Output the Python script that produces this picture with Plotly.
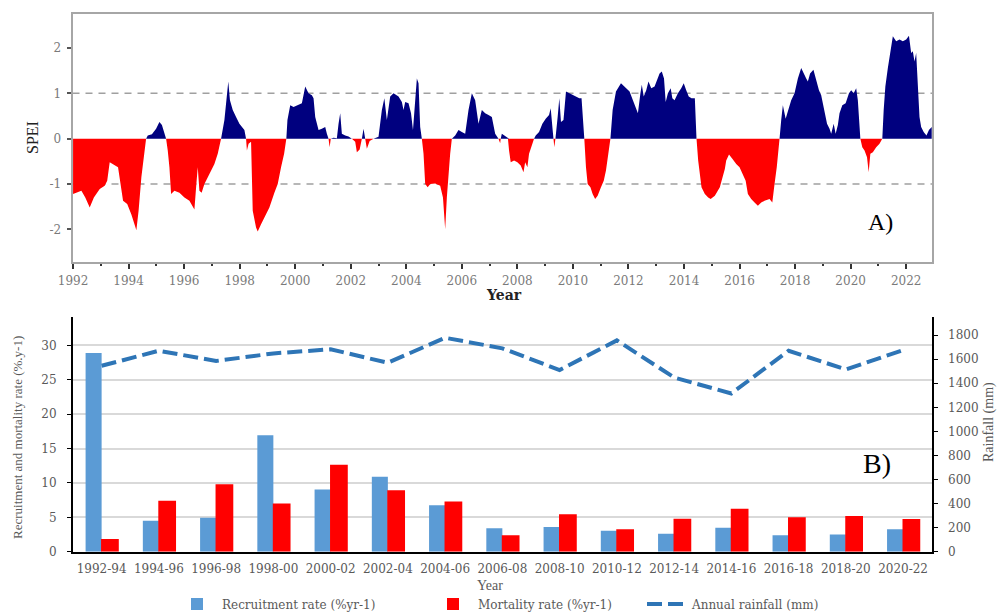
import plotly.graph_objects as go

# ---------------- Panel A: SPEI (decimal year, value) ----------------
spei_year = [
    1992.00, 1992.12, 1992.30, 1992.44, 1992.60, 1992.75, 1992.96, 1993.14, 1993.23, 1993.32,
    1993.44, 1993.62, 1993.71, 1993.80, 1993.95, 1994.10, 1994.28, 1994.36, 1994.46, 1994.55,
    1994.63, 1994.69, 1994.84, 1994.99, 1995.11, 1995.20, 1995.29, 1995.35, 1995.41, 1995.47,
    1995.53, 1995.65, 1995.83, 1996.01, 1996.19, 1996.37, 1996.44, 1996.49, 1996.55, 1996.63,
    1996.73, 1996.91, 1997.09, 1997.21, 1997.33, 1997.45, 1997.54, 1997.59, 1997.65, 1997.75,
    1997.87, 1997.99, 1998.17, 1998.23, 1998.26, 1998.32, 1998.41, 1998.47, 1998.59, 1998.65,
    1998.77, 1998.89, 1999.07, 1999.25, 1999.37, 1999.49, 1999.60, 1999.68,
    1999.72, 1999.82, 1999.94, 2000.12, 2000.24, 2000.36, 2000.48, 2000.60, 2000.66, 2000.72,
    2000.84, 2000.96, 2001.08, 2001.14, 2001.20, 2001.24, 2001.28, 2001.38, 2001.50, 2001.56,
    2001.62, 2001.68, 2001.80, 2001.92, 2002.04, 2002.16, 2002.22, 2002.32, 2002.40, 2002.46,
    2002.52, 2002.58, 2002.68, 2002.82, 2003.00, 2003.12, 2003.21, 2003.30, 2003.42, 2003.54,
    2003.72, 2003.84, 2003.90, 2003.96, 2004.08, 2004.17, 2004.24, 2004.32, 2004.38, 2004.44,
    2004.50, 2004.56, 2004.62, 2004.68, 2004.77, 2004.86, 2005.04, 2005.22, 2005.32, 2005.40,
    2005.46, 2005.52, 2005.58, 2005.64, 2005.76, 2005.88, 2006.00, 2006.12, 2006.24, 2006.36,
    2006.48, 2006.60, 2006.72, 2006.84, 2006.96, 2007.08, 2007.20, 2007.32, 2007.38, 2007.40,
    2007.44, 2007.53, 2007.62, 2007.66, 2007.70, 2007.76, 2007.88, 2008.00, 2008.12, 2008.22,
    2008.28, 2008.36, 2008.42, 2008.48, 2008.60, 2008.66, 2008.78, 2008.90, 2009.02, 2009.14,
    2009.20, 2009.27, 2009.30, 2009.33, 2009.37, 2009.45, 2009.51, 2009.57, 2009.66, 2009.75,
    2009.87, 2009.99, 2010.11, 2010.23, 2010.31, 2010.37, 2010.41, 2010.47, 2010.53, 2010.63,
    2010.71, 2010.80, 2010.89, 2011.01, 2011.11, 2011.19, 2011.28, 2011.35, 2011.43, 2011.55,
    2011.73, 2011.92, 2012.04, 2012.16, 2012.28, 2012.34, 2012.43, 2012.48, 2012.55, 2012.64,
    2012.72, 2012.82, 2012.94, 2013.04, 2013.12, 2013.20, 2013.28, 2013.34, 2013.42, 2013.52,
    2013.58, 2013.66, 2013.78, 2013.90, 2013.99, 2014.08, 2014.17, 2014.27, 2014.39, 2014.45,
    2014.51, 2014.63, 2014.75, 2014.87, 2014.96, 2015.11, 2015.29, 2015.47, 2015.52, 2015.62,
    2015.74, 2015.88, 2016.00, 2016.12, 2016.22, 2016.30, 2016.42, 2016.54, 2016.66, 2016.78,
    2016.90, 2017.08, 2017.18, 2017.26, 2017.34, 2017.44, 2017.50, 2017.56, 2017.66, 2017.74,
    2017.86, 2017.98, 2018.10, 2018.22, 2018.30, 2018.40, 2018.46, 2018.54, 2018.66, 2018.76,
    2018.86, 2018.94, 2019.06, 2019.15, 2019.24, 2019.30, 2019.39, 2019.46, 2019.54, 2019.60,
    2019.70, 2019.82, 2019.94, 2020.02, 2020.11, 2020.20, 2020.26, 2020.35, 2020.42, 2020.50,
    2020.59, 2020.65, 2020.71, 2020.80, 2020.92, 2021.04, 2021.14, 2021.19, 2021.25, 2021.34,
    2021.43, 2021.52, 2021.64, 2021.76, 2021.88, 2022.00, 2022.10, 2022.18, 2022.24, 2022.30,
    2022.36, 2022.42, 2022.48, 2022.54, 2022.63, 2022.73, 2022.82, 2022.92,
]
spei_value = [
    -1.22, -1.19, -1.15, -1.30, -1.52, -1.30, -1.11, -1.04, -0.93, -0.52,
    -0.57, -0.63, -1.00, -1.37, -1.44, -1.67, -2.02, -1.59, -0.85, -0.33,
    0.00, 0.07, 0.10, 0.22, 0.37, 0.30, 0.11, 0.00, -0.26, -0.63,
    -1.22, -1.15, -1.19, -1.30, -1.37, -1.56, -1.00, -0.63, -1.15, -1.19,
    -1.00, -0.78, -0.56, -0.33, 0.00, 0.41, 1.07, 1.26, 0.85, 0.63,
    0.48, 0.33, 0.19, 0.00, -0.26, -0.11, -0.07, -1.59, -1.96, -2.05,
    -1.89, -1.74, -1.52, -1.19, -1.00, -0.63, -0.33, 0.00,
    0.41, 0.74, 0.70, 0.74, 0.78, 1.15, 1.00, 0.96, 0.89, 0.48,
    0.19, 0.22, 0.26, 0.11, 0.00, -0.19, 0.00, 0.02, 0.01, 0.33,
    0.56, 0.11, 0.07, 0.05, 0.00, -0.07, -0.30, -0.24, 0.00, 0.22,
    0.00, -0.22, -0.05, 0.00, 0.04, 0.63, 0.89, 0.41, 0.93, 1.00,
    0.93, 0.81, 0.63, 0.81, 0.78, 0.56, 0.19, 0.93, 1.33, 1.22,
    0.26, 0.00, -0.33, -1.00, -1.07, -1.00, -0.99, -1.04, -1.30, -2.00,
    -1.30, -0.70, -0.33, 0.00, 0.07, 0.19, 0.15, 0.11, 0.63, 1.00,
    0.85, 0.33, 0.63, 0.56, 0.52, 0.48, 0.11, 0.00, -0.10, 0.00,
    0.11, 0.07, 0.02, 0.00, -0.26, -0.52, -0.48, -0.52, -0.59, -0.74,
    -0.52, -0.63, -0.33, -0.22, 0.00, 0.07, 0.15, 0.33, 0.44, 0.52,
    0.67, 0.19, 0.00, -0.19, 0.00, 0.48, 0.89, 0.37, 0.41, 1.04,
    1.00, 0.96, 0.93, 0.89, 0.89, 0.41, 0.00, -0.63, -1.00, -1.07,
    -1.22, -1.33, -1.26, -1.07, -0.93, -0.70, -0.33, 0.00, 0.63, 1.04,
    1.22, 1.11, 1.04, 0.85, 0.63, 0.56, 1.00, 1.19, 0.93, 1.07,
    1.26, 1.11, 1.15, 1.30, 1.44, 1.48, 1.33, 0.81, 1.00, 1.11,
    0.89, 0.85, 1.00, 1.11, 1.22, 1.07, 0.93, 0.89, 0.89, 0.00,
    -0.48, -1.07, -1.22, -1.30, -1.33, -1.26, -1.07, -0.67, -0.48, -0.35,
    -0.44, -0.56, -0.63, -0.78, -0.93, -1.22, -1.33, -1.41, -1.48, -1.41,
    -1.37, -1.33, -1.41, -1.00, -0.63, 0.00, 0.41, 0.74, 0.44, 0.59,
    0.85, 1.00, 1.33, 1.56, 1.44, 1.33, 1.26, 1.44, 1.52, 1.30,
    1.07, 0.96, 0.56, 0.33, 0.22, 0.11, 0.33, 0.11, 0.30, 0.56,
    0.74, 0.78, 1.00, 1.07, 1.00, 1.11, 0.85, 0.00, -0.19, -0.26,
    -0.41, -0.74, -0.33, -0.30, -0.19, -0.11, 0.00, 0.63, 1.15, 1.56,
    1.89, 2.26, 2.15, 2.19, 2.15, 2.19, 2.27, 1.89, 1.93, 1.70,
    1.89, 1.15, 0.48, 0.26, 0.15, 0.07, 0.19, 0.26,
]
spei_xticks = list(range(1992, 2023, 2))
spei_yticks = [-2, -1, 0, 1, 2]
spei_ytick_labels = ["-2", "-1", "0", "1", "2"]

# ---------------- Panel B: recruitment / mortality / rainfall ----------------
periods = ["1992-94", "1994-96", "1996-98", "1998-00", "2000-02", "2002-04", "2004-06",
           "2006-08", "2008-10", "2010-12", "2012-14", "2014-16", "2016-18", "2018-20", "2020-22"]
recruitment = [28.9, 4.5, 4.95, 16.95, 9.05, 10.9, 6.75, 3.4, 3.6, 3.05, 2.6, 3.5, 2.4, 2.5, 3.25]
mortality = [1.85, 7.4, 9.8, 7.0, 12.65, 8.95, 7.3, 2.4, 5.45, 3.25, 4.8, 6.25, 5.0, 5.2, 4.75]
rainfall = [1545, 1670, 1585, 1648, 1682, 1570, 1778, 1690, 1510, 1756, 1448, 1315, 1670, 1515, 1675]

W, H = 998, 612
def fx(p): return p / W
def fy(p): return 1 - p / H

SERIF = "Liberation Serif, Times New Roman, serif"
WIDE = "DejaVu Serif, serif"
GRAY = "#595959"
NAVY = "#00007F"
RED = "#FF0000"

pos = [v if v > 0 else 0 for v in spei_value]
neg = [v if v < 0 else 0 for v in spei_value]

fig = go.Figure()
fig.add_trace(go.Scatter(x=spei_year, y=neg, mode="lines", fill="tozeroy",
                         line=dict(color=RED, width=0), fillcolor=RED,
                         xaxis="x", yaxis="y", showlegend=False, hoverinfo="skip"))
fig.add_trace(go.Scatter(x=spei_year, y=pos, mode="lines", fill="tozeroy",
                         line=dict(color=NAVY, width=0), fillcolor=NAVY,
                         xaxis="x", yaxis="y", showlegend=False, hoverinfo="skip"))

fig.add_trace(go.Bar(x=periods, y=recruitment, name="Recruitment rate (%yr-1)",
                     marker=dict(color="#5B9BD5", line=dict(width=0)),
                     offset=-0.28, width=0.28, xaxis="x2", yaxis="y2", legend="legend"))
fig.add_trace(go.Bar(x=periods, y=mortality, name="Mortality rate (%yr-1)",
                     marker=dict(color=RED, line=dict(width=0)),
                     offset=-0.01, width=0.31, xaxis="x2", yaxis="y2", legend="legend2"))
fig.add_trace(go.Scatter(x=periods, y=rainfall, name="Annual rainfall (mm)", mode="lines",
                         line=dict(color="#2E75B6", width=4, dash="15px,6px"),
                         xaxis="x2", yaxis="y3", legend="legend3"))

topfont = dict(family=WIDE, size=12, color="#7a7a7a")
botfont = dict(family=WIDE, size=12, color=GRAY)
legfont = dict(family=WIDE, size=12, color=GRAY)


def ann(text, x, y, size, color, family=SERIF, angle=0):
    return dict(text=text, x=fx(x), y=fy(y), xref="paper", yref="paper", showarrow=False,
                xanchor="center", yanchor="middle", textangle=angle,
                font=dict(family=family, size=size, color=color))


def leg(x):
    return dict(orientation="h", x=fx(x), xanchor="left", y=fy(604), yanchor="middle",
                font=legfont, itemwidth=40, bgcolor="rgba(0,0,0,0)")


fig.update_layout(
    width=W, height=H,
    margin=dict(l=0, r=0, t=0, b=0, autoexpand=False),
    paper_bgcolor="white", plot_bgcolor="white",
    barmode="overlay",
    xaxis=dict(domain=[fx(72.5), fx(932)], range=[1991.98, 2022.93], anchor="y",
               tickvals=spei_xticks, ticks="outside", ticklen=5, tickwidth=2, tickcolor="#333",
               minor=dict(dtick=1, tick0=1992, ticks="outside", ticklen=2, tickwidth=2, tickcolor="#333"),
               showline=True, linecolor="#A6A6A6", linewidth=2, mirror=True, automargin=False,
               showgrid=False, zeroline=False, tickfont=topfont, ticklabelstandoff=2),
    yaxis=dict(domain=[fy(262), fy(14)], range=[-2.72, 2.75], anchor="x",
               tickvals=spei_yticks, ticktext=spei_ytick_labels,
               ticks="outside", ticklen=4, tickwidth=1.5, tickcolor="#555",
               showline=True, linecolor="#A6A6A6", linewidth=2, mirror=True, automargin=False,
               showgrid=False, zeroline=False, tickfont=topfont, ticklabelstandoff=3),
    xaxis2=dict(domain=[fx(73), fx(931.7)], type="category", range=[-0.5, 14.5], anchor="y2",
                showline=True, linecolor="black", linewidth=2, ticks="", automargin=False,
                showgrid=False, zeroline=False, tickfont=botfont, ticklabelstandoff=5),
    yaxis2=dict(domain=[fy(551.7), fy(317.3)], range=[0, 34.1], dtick=5, anchor="x2",
                showline=True, linecolor="black", linewidth=2, ticks="outside", ticklen=4,
                tickcolor="black", showgrid=True, gridcolor="#D9D9D9", gridwidth=1.5,
                zeroline=False, tickfont=botfont, automargin=False, ticklabelstandoff=8),
    yaxis3=dict(overlaying="y2", side="right", anchor="x2", range=[0, 1948], dtick=200,
                showline=True, linecolor="black", linewidth=2, ticks="outside", ticklen=4,
                tickcolor="black", showgrid=False, zeroline=False, tickfont=botfont,
                automargin=False, ticklabelstandoff=8),
    legend=leg(172),
    legend2=leg(428),
    legend3=leg(642),
    shapes=[
        dict(type="line", xref="x domain", yref="y", x0=0, x1=1, y0=1, y1=1,
             line=dict(color="#A0A0A0", width=1.5, dash="7px,6px"), layer="below"),
        dict(type="line", xref="x domain", yref="y", x0=0, x1=1, y0=-1, y1=-1,
             line=dict(color="#A0A0A0", width=1.5, dash="7px,6px"), layer="below"),
    ],
    annotations=[
        ann("SPEI", 33, 138, 16, "#222", angle=-90),
        ann("<b>Year</b>", 504, 295, 14, "#222", family=WIDE),
        ann("A)", 880, 222, 24, "black"),
        ann("Recruitment and mortality rate (%.y-1)", 17, 438, 13, GRAY, angle=-90),
        ann("Rainfall (mm)", 989, 422, 14, GRAY, angle=-90),
        ann("Year", 490, 585, 14, GRAY),
        ann("B)", 877, 463, 28, "black"),
    ],
)

fig.write_html("out.html", config={"displayModeBar": False},
               post_script="document.body.style.margin='0';")
